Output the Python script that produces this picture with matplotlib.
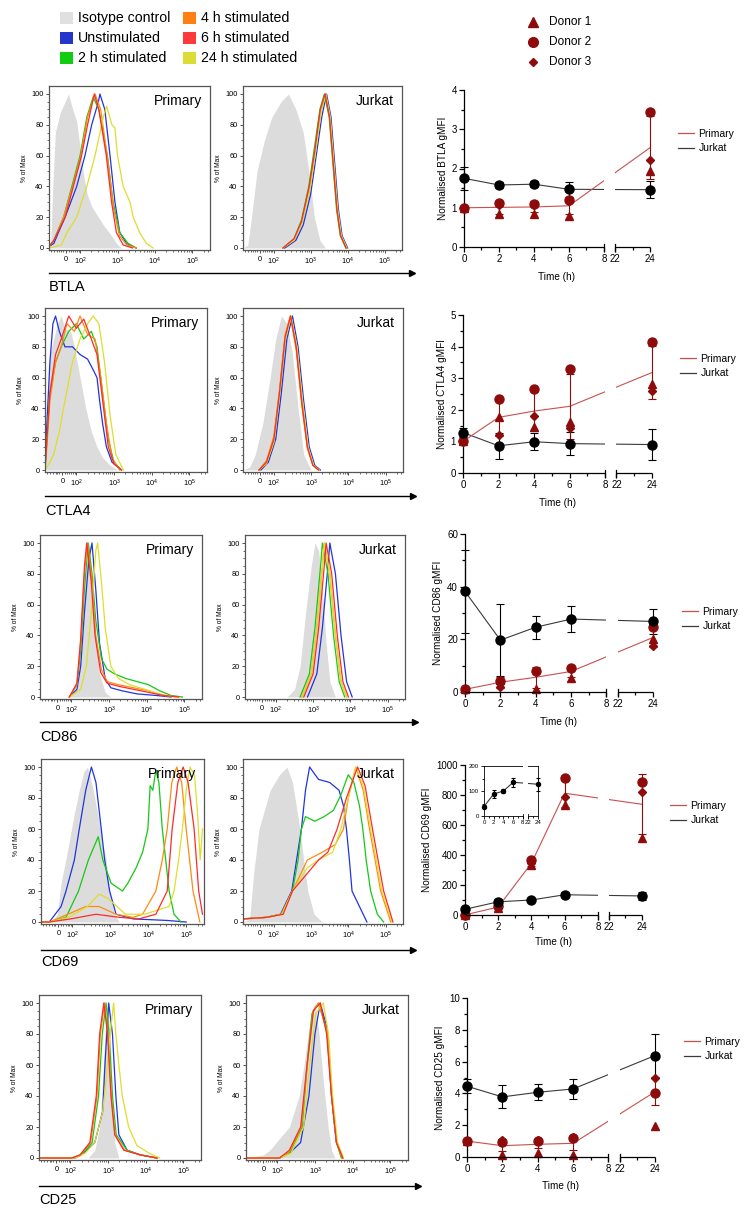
import numpy as np
import matplotlib
matplotlib.use('Agg')
import matplotlib.pyplot as plt
from matplotlib.lines import Line2D
from matplotlib.patches import Rectangle

plt.rcParams['font.family'] = ['Liberation Sans', 'DejaVu Sans']
plt.rcParams['mathtext.fontset'] = 'custom'
plt.rcParams['mathtext.rm'] = 'Liberation Sans'
plt.rcParams['mathtext.it'] = 'Liberation Sans:italic'
plt.rcParams['mathtext.bf'] = 'Liberation Sans:bold'

# ---------------- data ----------------
stim_keys = ['iso', 'unstim', '2h', '4h', '6h', '24h']
stim_labels = ['Isotype control', 'Unstimulated', '2 h stimulated',
               '4 h stimulated', '6 h stimulated', '24 h stimulated']
donor_labels = ['Donor 1', 'Donor 2', 'Donor 3']

# histogram curves: (display position on biexponential axis, % of Max)
# axis positions: "0" = 1.63, 10^2 = 2, 10^3 = 3, 10^4 = 4, 10^5 = 5
btla_primary = dict(
    iso=[(1.19, 0), (1.22, 5), (1.27, 40), (1.34, 75), (1.47, 88), (1.60, 95), (1.69, 100), (1.78, 92),
         (1.91, 82), (2.0, 65), (2.09, 48), (2.19, 35), (2.31, 27), (2.49, 20), (2.62, 15), (2.84, 8),
         (2.97, 3), (3.1, 0)],
    unstim=[(1.17, 1), (1.3, 3), (1.42, 10), (1.6, 20), (1.91, 40), (2.13, 60), (2.31, 80), (2.49, 95),
            (2.53, 100), (2.66, 90), (2.8, 60), (2.93, 30), (3.06, 10), (3.24, 3), (3.5, 0)],
    **{'2h': [(1.17, 1), (1.3, 5), (1.56, 20), (1.78, 40), (2.0, 60), (2.18, 85), (2.35, 98), (2.5, 90),
              (2.73, 60), (2.88, 30), (3.06, 10), (3.28, 3), (3.5, 0)],
       '4h': [(1.17, 1), (1.3, 5), (1.56, 20), (1.8, 40), (2.02, 60), (2.2, 85), (2.4, 100), (2.55, 90),
              (2.75, 55), (2.9, 25), (3.05, 8), (3.25, 2), (3.5, 0)],
       '6h': [(1.17, 1), (1.3, 5), (1.6, 20), (1.82, 40), (2.04, 60), (2.2, 80), (2.38, 100), (2.5, 90),
              (2.7, 60), (2.84, 30), (2.97, 10), (3.15, 2), (3.4, 0)],
       '24h': [(1.17, 0), (1.5, 2), (1.65, 10), (1.91, 20), (2.18, 40), (2.4, 60), (2.62, 85), (2.71, 92),
               (2.85, 80), (2.93, 78), (3.0, 60), (3.15, 40), (3.33, 30), (3.42, 20), (3.59, 10),
               (3.77, 3), (3.95, 0)]})
btla_jurkat = dict(
    iso=[(1.17, 0), (1.3, 2), (1.4, 20), (1.55, 50), (1.75, 70), (1.95, 85), (2.2, 95), (2.4, 100),
         (2.6, 90), (2.8, 75), (2.95, 50), (3.1, 20), (3.25, 5), (3.4, 0)],
    unstim=[(2.3, 0), (2.6, 5), (2.8, 15), (3.0, 35), (3.15, 60), (3.3, 85), (3.43, 100), (3.55, 85),
            (3.65, 55), (3.75, 25), (3.85, 8), (4.0, 0)],
    **{'2h': [(2.25, 0), (2.55, 6), (2.75, 18), (2.95, 40), (3.1, 65), (3.25, 90), (3.37, 100), (3.5, 85),
              (3.6, 55), (3.7, 25), (3.8, 8), (3.95, 0)],
       '4h': [(2.25, 0), (2.55, 5), (2.75, 16), (2.97, 38), (3.12, 62), (3.27, 88), (3.4, 100), (3.52, 85),
              (3.62, 55), (3.72, 25), (3.82, 8), (3.97, 0)],
       '6h': [(2.25, 0), (2.55, 6), (2.75, 17), (2.96, 40), (3.11, 63), (3.26, 90), (3.39, 100), (3.51, 85),
              (3.61, 55), (3.71, 25), (3.81, 8), (3.96, 0)],
       '24h': [(2.25, 0), (2.55, 5), (2.76, 16), (2.98, 38), (3.13, 62), (3.28, 88), (3.41, 100), (3.53, 85),
               (3.63, 55), (3.73, 25), (3.83, 8), (3.98, 0)]})
ctla4_primary = dict(
    iso=[(1.17, 0), (1.2, 10), (1.25, 50), (1.3, 75), (1.4, 85), (1.5, 95), (1.6, 100), (1.7, 92),
         (1.85, 90), (1.95, 80), (2.1, 60), (2.25, 40), (2.4, 25), (2.55, 15), (2.7, 8), (2.9, 3), (3.1, 0)],
    unstim=[(1.17, 0), (1.22, 30), (1.3, 70), (1.38, 95), (1.45, 100), (1.55, 90), (1.7, 80), (1.9, 80),
            (2.1, 75), (2.3, 72), (2.45, 65), (2.55, 60), (2.62, 45), (2.7, 30), (2.8, 15), (2.95, 5),
            (3.2, 0)],
    **{'2h': [(1.17, 0), (1.22, 20), (1.3, 50), (1.45, 70), (1.6, 80), (1.8, 90), (2.0, 95), (2.2, 85),
              (2.4, 90), (2.55, 80), (2.7, 50), (2.85, 20), (3.0, 5), (3.2, 0)],
       '4h': [(1.17, 0), (1.22, 15), (1.3, 45), (1.45, 70), (1.6, 80), (1.75, 95), (1.95, 90), (2.1, 100),
              (2.3, 88), (2.5, 85), (2.65, 60), (2.8, 30), (2.95, 8), (3.15, 0)],
       '6h': [(1.17, 0), (1.22, 20), (1.3, 50), (1.45, 75), (1.6, 85), (1.8, 100), (2.0, 92), (2.2, 98),
              (2.4, 85), (2.55, 75), (2.7, 45), (2.85, 15), (3.0, 4), (3.2, 0)],
       '24h': [(1.17, 0), (1.25, 3), (1.4, 10), (1.55, 25), (1.7, 45), (1.9, 70), (2.1, 85), (2.3, 95),
               (2.45, 100), (2.6, 95), (2.75, 70), (2.9, 35), (3.05, 10), (3.25, 0)]})
ctla4_jurkat = dict(
    iso=[(1.17, 0), (1.35, 2), (1.5, 10), (1.7, 30), (1.9, 60), (2.05, 85), (2.2, 100), (2.35, 95),
         (2.5, 75), (2.65, 40), (2.8, 10), (3.0, 0)],
    unstim=[(1.65, 0), (1.85, 5), (2.05, 20), (2.2, 50), (2.35, 85), (2.5, 100), (2.65, 80), (2.8, 45),
            (2.95, 15), (3.1, 3), (3.25, 0)],
    **{'2h': [(1.6, 0), (1.8, 5), (2.0, 20), (2.15, 50), (2.3, 85), (2.45, 100), (2.6, 80), (2.75, 45),
              (2.9, 15), (3.05, 3), (3.2, 0)],
       '4h': [(1.6, 0), (1.8, 6), (2.0, 22), (2.15, 52), (2.3, 88), (2.44, 100), (2.6, 78), (2.75, 42),
              (2.9, 14), (3.05, 3), (3.2, 0)],
       '6h': [(1.6, 0), (1.8, 5), (2.0, 20), (2.15, 50), (2.3, 86), (2.45, 100), (2.6, 80), (2.75, 44),
              (2.9, 15), (3.05, 3), (3.2, 0)],
       '24h': [(1.6, 0), (1.8, 4), (2.0, 18), (2.15, 48), (2.3, 84), (2.46, 100), (2.62, 80), (2.77, 45),
               (2.92, 15), (3.07, 3), (3.22, 0)]})
cd86_primary = dict(
    iso=[(1.95, 0), (2.15, 5), (2.25, 30), (2.35, 70), (2.43, 95), (2.47, 100), (2.55, 80), (2.65, 40),
         (2.75, 15), (2.9, 3), (3.05, 0)],
    unstim=[(1.95, 0), (2.15, 5), (2.25, 20), (2.35, 55), (2.47, 90), (2.55, 100), (2.65, 70), (2.75, 35),
            (2.9, 12), (3.05, 6), (3.35, 4), (3.75, 2), (4.25, 1), (4.65, 0)],
    **{'2h': [(1.95, 0), (2.15, 8), (2.25, 30), (2.35, 70), (2.45, 100), (2.55, 80), (2.65, 50), (2.8, 25),
              (2.95, 18), (3.15, 15), (3.45, 12), (3.75, 10), (4.05, 8), (4.35, 4), (4.65, 1), (4.95, 0)],
       '4h': [(1.95, 0), (2.15, 8), (2.25, 35), (2.35, 80), (2.43, 100), (2.55, 75), (2.65, 40), (2.8, 18),
              (2.95, 10), (3.25, 8), (3.65, 6), (4.05, 4), (4.45, 1), (4.85, 0)],
       '6h': [(1.95, 0), (2.15, 9), (2.25, 38), (2.35, 85), (2.41, 100), (2.53, 75), (2.63, 40), (2.78, 16),
              (2.95, 9), (3.25, 7), (3.65, 5), (4.05, 3), (4.45, 1), (4.85, 0)],
       '24h': [(1.95, 0), (2.25, 5), (2.4, 20), (2.55, 60), (2.65, 95), (2.7, 100), (2.8, 75), (2.9, 45),
               (3.05, 20), (3.25, 12), (3.55, 8), (3.95, 5), (4.35, 2), (4.75, 0)]})
cd86_jurkat = dict(
    iso=[(2.3, 0), (2.5, 5), (2.65, 20), (2.8, 55), (2.95, 85), (3.05, 100), (3.15, 95), (3.25, 70),
         (3.35, 35), (3.45, 10), (3.6, 0)],
    unstim=[(2.85, 0), (3.1, 15), (3.25, 45), (3.4, 85), (3.45, 100), (3.6, 80), (3.75, 40), (3.9, 10),
            (4.05, 0)],
    **{'2h': [(2.65, 0), (2.9, 15), (3.05, 45), (3.2, 85), (3.25, 100), (3.4, 80), (3.55, 40), (3.7, 10),
              (3.85, 0)],
       '4h': [(2.7, 0), (2.95, 15), (3.1, 45), (3.25, 85), (3.3, 100), (3.45, 80), (3.6, 40), (3.75, 10),
              (3.9, 0)],
       '6h': [(2.75, 0), (3.0, 15), (3.15, 45), (3.3, 85), (3.35, 100), (3.5, 80), (3.65, 40), (3.8, 10),
              (3.95, 0)],
       '24h': [(2.7, 0), (2.95, 15), (3.1, 45), (3.25, 85), (3.3, 100), (3.45, 80), (3.6, 40), (3.75, 10),
               (3.9, 0)]})
cd69_primary = dict(
    iso=[(1.45, 0), (1.6, 5), (1.7, 25), (1.9, 50), (2.05, 70), (2.18, 85), (2.3, 97), (2.4, 100),
         (2.55, 85), (2.7, 65), (2.8, 50), (2.89, 40), (2.98, 20), (3.1, 5), (3.24, 0)],
    unstim=[(1.17, 0), (1.39, 0), (1.7, 10), (1.83, 20), (2.05, 40), (2.18, 60), (2.35, 85), (2.5, 100),
            (2.62, 90), (2.76, 60), (2.85, 40), (2.98, 20), (3.15, 5), (3.6, 2), (4.5, 1), (5.0, 0)],
    **{'2h': [(1.17, 0), (1.39, 0), (1.83, 3), (2.16, 20), (2.42, 40), (2.68, 55), (2.8, 40), (3.02, 25),
              (3.32, 20), (3.46, 25), (3.68, 35), (3.85, 45), (3.99, 60), (4.05, 88), (4.12, 85),
              (4.2, 98), (4.28, 90), (4.37, 60), (4.46, 40), (4.55, 20), (4.68, 5), (4.86, 0)],
       '4h': [(1.17, 0), (1.39, 0), (1.88, 5), (2.35, 10), (2.7, 10), (3.15, 5), (3.6, 3), (3.85, 5),
              (4.2, 20), (4.37, 40), (4.5, 60), (4.62, 90), (4.75, 100), (4.88, 90), (5.0, 60),
              (5.18, 20), (5.36, 0)],
       '6h': [(1.17, 0), (1.39, 0), (1.95, 2), (2.62, 5), (3.24, 3), (3.75, 2), (4.2, 5), (4.5, 20),
              (4.63, 60), (4.78, 90), (4.92, 100), (5.05, 90), (5.21, 60), (5.33, 20), (5.43, 5)],
       '24h': [(1.17, 0), (1.39, 0), (1.9, 3), (2.4, 10), (2.7, 18), (2.95, 15), (3.4, 5), (3.9, 5),
               (4.55, 10), (4.68, 20), (4.8, 40), (4.9, 60), (5.0, 85), (5.1, 100), (5.22, 95),
               (5.3, 70), (5.37, 40), (5.43, 60)]})
cd69_jurkat = dict(
    iso=[(1.17, 0), (1.35, 2), (1.45, 30), (1.6, 60), (1.9, 85), (2.15, 95), (2.35, 100), (2.5, 90),
         (2.6, 75), (2.7, 60), (2.8, 40), (2.91, 20), (3.08, 5), (3.3, 0)],
    unstim=[(1.17, 2), (1.8, 3), (2.18, 5), (2.48, 20), (2.61, 40), (2.74, 60), (2.85, 85), (2.96, 100),
            (3.2, 92), (3.5, 90), (3.75, 85), (3.87, 75), (3.95, 60), (4.03, 40), (4.1, 20), (4.4, 5),
            (4.5, 0)],
    **{'2h': [(1.17, 2), (1.8, 3), (2.2, 5), (2.5, 20), (2.65, 40), (2.74, 60), (2.85, 68), (3.1, 65),
              (3.35, 68), (3.6, 72), (3.8, 82), (4.0, 95), (4.15, 90), (4.3, 75), (4.39, 60), (4.48, 40),
              (4.6, 20), (4.78, 5), (4.95, 0)],
       '4h': [(1.17, 2), (1.8, 3), (2.2, 5), (2.5, 20), (2.9, 40), (3.3, 45), (3.65, 50), (3.87, 60),
              (4.0, 80), (4.2, 100), (4.4, 85), (4.57, 60), (4.87, 20), (5.14, 0)],
       '6h': [(1.17, 2), (1.8, 3), (2.25, 5), (2.5, 20), (2.85, 30), (3.2, 40), (3.45, 45), (3.7, 60),
              (3.95, 80), (4.25, 100), (4.45, 88), (4.65, 60), (4.95, 20), (5.2, 0)],
       '24h': [(1.17, 2), (1.8, 3), (2.22, 5), (2.5, 20), (2.9, 35), (3.2, 40), (3.58, 45), (3.8, 60),
               (4.0, 80), (4.2, 100), (4.4, 88), (4.6, 60), (4.9, 20), (5.17, 0)]})
cd25_primary = dict(
    iso=[(1.17, 0), (2.47, 0), (2.65, 5), (2.78, 20), (2.86, 50), (2.92, 80), (2.99, 98), (3.06, 80),
         (3.12, 40), (3.18, 10), (3.29, 0)],
    unstim=[(1.17, 0), (2.13, 0), (2.3, 2), (2.65, 10), (2.86, 30), (2.92, 60), (3.02, 100), (3.12, 80),
            (3.21, 40), (3.29, 15), (3.51, 5), (3.86, 2), (4.3, 0)],
    **{'2h': [(1.17, 0), (2.05, 0), (2.3, 2), (2.58, 10), (2.75, 40), (2.85, 80), (2.95, 100), (3.03, 80),
              (3.12, 40), (3.22, 15), (3.51, 5), (3.86, 2), (4.3, 0)],
       '4h': [(1.17, 0), (2.05, 0), (2.26, 2), (2.54, 10), (2.71, 40), (2.8, 80), (2.91, 100), (3.0, 80),
              (3.09, 40), (3.19, 15), (3.45, 5), (3.86, 2), (4.3, 0)],
       '6h': [(1.17, 0), (2.04, 0), (2.26, 2), (2.52, 10), (2.69, 40), (2.78, 80), (2.89, 100), (2.99, 80),
              (3.08, 40), (3.18, 15), (3.42, 5), (3.86, 2), (4.3, 0)],
       '24h': [(1.17, 0), (2.13, 0), (2.39, 3), (2.65, 10), (2.86, 30), (2.95, 50), (3.05, 78), (3.15, 100),
               (3.21, 80), (3.29, 60), (3.38, 40), (3.55, 20), (3.77, 8), (4.1, 3), (4.37, 0)]})
cd25_jurkat = dict(
    iso=[(1.2, 0), (1.63, 2), (1.8, 5), (1.97, 10), (2.32, 20), (2.58, 40), (2.71, 60), (2.82, 80),
         (2.92, 95), (3.0, 100), (3.11, 80), (3.22, 50), (3.35, 20), (3.44, 5), (3.53, 0)],
    unstim=[(1.17, 0), (2.06, 0), (2.32, 3), (2.62, 10), (2.84, 40), (3.0, 80), (3.14, 100), (3.31, 85),
            (3.44, 40), (3.57, 10), (3.74, 0)],
    **{'2h': [(1.17, 0), (2.06, 0), (2.32, 3), (2.66, 20), (2.79, 60), (2.92, 93), (3.09, 100), (3.35, 80),
              (3.44, 40), (3.57, 10), (3.7, 0)],
       '4h': [(1.17, 0), (2.06, 0), (2.32, 4), (2.64, 20), (2.8, 60), (2.95, 95), (3.1, 100), (3.33, 80),
              (3.45, 40), (3.58, 10), (3.72, 0)],
       '6h': [(1.17, 0), (2.06, 0), (2.32, 5), (2.62, 20), (2.79, 60), (2.96, 95), (3.14, 100), (3.31, 80),
              (3.44, 40), (3.57, 10), (3.74, 0)],
       '24h': [(1.17, 0), (2.06, 0), (2.36, 3), (2.7, 20), (2.86, 60), (3.02, 93), (3.22, 100), (3.36, 80),
               (3.47, 40), (3.6, 10), (3.76, 0)]})

# time courses (h) : mean, SD, individual donors
time_h = [0, 2, 4, 6, 24]
btla_jurkat_mean = [1.75, 1.58, 1.60, 1.47, 1.46]
btla_jurkat_sd = [0.30, 0.08, 0.07, 0.19, 0.21]
btla_primary_mean = [1.0, 1.01, 1.02, 1.05, 2.53]
btla_primary_sd = [0.0, 0.16, 0.14, 0.22, 0.81]
btla_donor1 = [1.0, 0.83, 0.84, 0.80, 1.93]
btla_donor2 = [1.0, 1.12, 1.10, 1.20, 3.45]
btla_donor3 = [1.0, 1.08, 1.08, 1.17, 2.22]

ctla4_jurkat_mean = [1.28, 0.86, 0.99, 0.93, 0.90]
ctla4_jurkat_sd = [0.14, 0.42, 0.27, 0.36, 0.49]
ctla4_primary_mean = [1.0, 1.76, 1.96, 2.11, 3.18]
ctla4_primary_sd = [0.0, 0.58, 0.62, 1.03, 0.83]
ctla4_donor1 = [1.0, 1.76, 1.44, 1.62, 2.82]
ctla4_donor2 = [1.0, 2.34, 2.65, 3.30, 4.13]
ctla4_donor3 = [1.0, 1.19, 1.79, 1.42, 2.59]

cd86_jurkat_mean = [38.2, 19.7, 24.6, 27.7, 26.8]
cd86_jurkat_sd = [15.8, 13.6, 4.3, 5.0, 4.7]
cd86_primary_mean = [1.0, 3.7, 5.6, 7.8, 20.7]
cd86_primary_sd = [0.0, 2.0, 4.0, 2.2, 3.5]
cd86_donor1 = [1.0, 4.7, 1.0, 5.3, 20.0]
cd86_donor2 = [1.0, 4.2, 8.0, 9.3, 24.5]
cd86_donor3 = [1.0, 2.0, 7.6, 8.8, 17.5]

cd69_jurkat_mean = [38, 88, 100, 135, 127]
cd69_jurkat_sd = [5, 16, 8, 17, 27]
cd69_primary_mean = [1, 53, 345, 812, 738]
cd69_primary_sd = [0, 10, 16, 93, 200]
cd69_donor1 = [1, 45, 335, 733, 511]
cd69_donor2 = [1, 60, 367, 915, 885]
cd69_donor3 = [1, 52, 350, 789, 823]

cd25_jurkat_mean = [4.45, 3.78, 4.07, 4.28, 6.38]
cd25_jurkat_sd = [0.45, 0.72, 0.50, 0.62, 1.35]
cd25_primary_mean = [1.0, 0.71, 0.80, 0.86, 4.1]
cd25_primary_sd = [0.0, 0.35, 0.25, 0.45, 0.85]
cd25_donor1 = [1.0, 0.15, 0.27, 0.15, 1.97]
cd25_donor2 = [1.0, 0.92, 1.03, 1.18, 4.0]
cd25_donor3 = [1.0, 1.05, 1.10, 1.24, 5.0]

hist_xtick_pos = [1.63, 2, 3, 4, 5]
hist_xtick_lab = ['0', '$10^2$', '$10^3$', '$10^4$', '$10^5$']
time_ticks = [0, 2, 4, 6, 8, 22, 24]

# ---------------- styling ----------------
W, H = 752, 1216
fig = plt.figure(figsize=(W / 100, H / 100), dpi=100)

fill_iso = '#dcdcdc'
line_cols = {'unstim': '#1f35e0', '2h': '#16c816', '4h': '#ff8a14', '6h': '#ff2a2a', '24h': '#dede2c'}
legend_cols = ['#e0e0e0', '#2435cc', '#11cc11', '#ff7f10', '#ff3a3a', '#dcdc36']
prim_line = '#c8504f'
jur_line = '#3a3a3a'
dred = '#8e0b0b'


def px_axes(l, t, r, b):
    return fig.add_axes([l / W, 1 - b / H, (r - l) / W, (b - t) / H])


def hist_axes(l, r, y0, y100):
    k = (y0 - y100) / 100.0
    ax = px_axes(l, y0 - 105 * k, r, y0 + 1.5 * k)
    ax.set_ylim(-1.5, 105)
    return ax


minor_x = [1.22, 1.3, 1.38, 1.45, 1.5, 1.55, 1.7, 1.76, 1.82, 1.87, 1.92, 1.96]
for d in [2, 3, 4]:
    minor_x += [d + np.log10(m) for m in range(2, 10)]
minor_x += [5 + np.log10(2), 5 + np.log10(2.6)]


def draw_hist(ax, curves, title):
    ax.set_xlim(1.17, 5.47)
    p = np.array(curves['iso'], float)
    ax.fill_between(p[:, 0], p[:, 1], 0, color=fill_iso, lw=0, zorder=1)
    for key in ['unstim', '2h', '4h', '24h', '6h']:
        p = np.array(curves[key], float)
        ax.plot(p[:, 0], p[:, 1], color=line_cols[key], lw=0.9, zorder=2)
    for s in ax.spines.values():
        s.set_color('#555555')
        s.set_linewidth(0.9)
    ax.set_yticks(range(0, 101, 20))
    ax.set_yticks(range(0, 101, 5), minor=True)
    ax.set_xticks(hist_xtick_pos)
    ax.set_xticklabels(hist_xtick_lab)
    ax.set_xticks(minor_x, minor=True)
    ax.tick_params(which='major', direction='out', length=2.5, width=0.6, labelsize=5.3, pad=1.5,
                   color='#333333')
    ax.tick_params(which='minor', direction='out', length=1.3, width=0.5, color='#333333')
    ax.set_ylabel('% of Max', fontsize=4.8, labelpad=2)
    ax.text(0.95, 0.91, title, transform=ax.transAxes, ha='right', va='center', fontsize=10)


def make_scale(gap):
    def fwd(t):
        t = np.asarray(t, float)
        return np.where(t <= 8, t, np.where(t >= 22, t - 14 + gap, 8 + (t - 8) * gap / 14.0))

    def inv(x):
        x = np.asarray(x, float)
        return np.where(x <= 8, x, np.where(x >= 8 + gap, x + 14 - gap, 8 + (x - 8) * 14.0 / gap))
    return fwd, inv


def style_time_axis(ax, gap, ymax, major, minor, fs, tl, lw, brk_px, ax_h_px, box=False):
    fwd, inv = make_scale(gap)
    ax.set_xscale('function', functions=(fwd, inv))
    ax.set_xlim(0, 24)
    ax.set_ylim(0, ymax)
    ax.axvspan(8, 22, color='white', lw=0, zorder=2.6)
    for s in ['top', 'right']:
        ax.spines[s].set_visible(box)
        ax.spines[s].set_linewidth(lw)
    ax.spines['bottom'].set_visible(False)
    ax.spines['left'].set_linewidth(lw)
    tr = ax.get_xaxis_transform()
    for seg in ([0, 8], [22, 24]):
        ax.plot(seg, [0, 0], transform=tr, color='k', lw=lw, clip_on=False, zorder=6,
                solid_capstyle='butt')
    h = brk_px / ax_h_px
    for xb in (8, 22):
        ax.plot([xb, xb], [-h, h], transform=tr, color='k', lw=lw, clip_on=False, zorder=6)
    ax.set_xticks(time_ticks)
    ax.set_xticklabels([str(t) for t in time_ticks])
    ax.set_xticks([1, 3, 5, 7, 23], minor=True)
    ax.set_yticks(major)
    ax.set_yticks(minor, minor=True)
    ax.tick_params(which='major', direction='out', length=tl, width=lw, labelsize=fs, pad=1.5)
    ax.tick_params(which='minor', direction='out', length=tl * 0.6, width=lw)


def draw_time(ax, jm, jsd, pm, psd, d1, d2, d3, ms=1.0, donors=True):
    ax.plot(time_h, jm, color=jur_line, lw=0.8, zorder=2)
    ax.errorbar(time_h, jm, yerr=jsd, fmt='none', ecolor='k', elinewidth=0.8, capsize=2.6 * ms,
                capthick=0.8, zorder=3, clip_on=False)
    ax.plot(time_h, jm, 'o', color='k', ms=6.5 * ms, zorder=5, clip_on=False)
    if donors:
        ax.plot(time_h, pm, color=prim_line, lw=0.8, zorder=2)
        ax.errorbar(time_h, pm, yerr=psd, fmt='none', ecolor=dred, elinewidth=0.8, capsize=2.6,
                    capthick=0.8, zorder=3, clip_on=False)
        ax.plot(time_h, d2, 'o', color=dred, ms=6.5, zorder=4, clip_on=False)
        ax.plot(time_h, d1, '^', color=dred, ms=5.5, zorder=4, clip_on=False)
        ax.plot(time_h, d3, 'D', color=dred, ms=4.0, zorder=4, clip_on=False)


# ---------------- top legends ----------------
leg_pos = [(60, 18), (60, 38), (60, 58), (183, 18), (183, 38), (183, 58)]
for (x, y), lab, col in zip(leg_pos, stim_labels, legend_cols):
    fig.add_artist(Rectangle((x / W, 1 - (y + 6) / H), 13 / W, 12 / H, transform=fig.transFigure,
                             facecolor=col, edgecolor='none'))
    fig.text((x + 18) / W, 1 - y / H, lab, fontsize=10.2, va='center', ha='left')

donor_mk = [('^', 6.5), ('o', 7.0), ('D', 4.5)]
for i, (lab, (mk, s)) in enumerate(zip(donor_labels, donor_mk)):
    y = 22 + 20 * i
    fig.add_artist(Line2D([533 / W], [1 - y / H], marker=mk, ms=s, color=dred, ls='none',
                          transform=fig.transFigure))
    fig.text(549 / W, 1 - y / H, lab, fontsize=8.6, va='center', ha='left')

# ---------------- rows ----------------
rows = [
    dict(name='BTLA', prim=btla_primary, jur=btla_jurkat, y0=248, y100=94, pl=(49, 210), jl=(243, 402),
         arrow=273, lab=287),
    dict(name='CTLA4', prim=ctla4_primary, jur=ctla4_jurkat, y0=470, y100=316, pl=(45, 207), jl=(243, 403),
         arrow=496, lab=511),
    dict(name='CD86', prim=cd86_primary, jur=cd86_jurkat, y0=697, y100=543, pl=(40, 202), jl=(245, 405),
         arrow=722, lab=737),
    dict(name='CD69', prim=cd69_primary, jur=cd69_jurkat, y0=922, y100=767, pl=(41, 204), jl=(243, 403),
         arrow=950, lab=962),
    dict(name='CD25', prim=cd25_primary, jur=cd25_jurkat, y0=1158, y100=1003, pl=(39, 201), jl=(246, 408),
         arrow=1186, lab=1200),
]
for r in rows:
    a1 = hist_axes(r['pl'][0], r['pl'][1], r['y0'], r['y100'])
    draw_hist(a1, r['prim'], 'Primary')
    a2 = hist_axes(r['jl'][0], r['jl'][1], r['y0'], r['y100'])
    draw_hist(a2, r['jur'], 'Jurkat')
    fig.add_artist(Line2D([r['pl'][0] / W, (r['jl'][1] + 6) / W], [1 - r['arrow'] / H] * 2, color='k',
                          lw=1.0, transform=fig.transFigure))
    fig.add_artist(Line2D([(r['jl'][1] + 10) / W], [1 - r['arrow'] / H], marker='>', ms=4, color='k',
                          ls='none', transform=fig.transFigure))
    fig.text(r['pl'][0] / W, 1 - r['lab'] / H, r['name'], fontsize=10.5, va='center', ha='left')

# ---------------- time-course panels ----------------
panels = [
    dict(name='BTLA', box=(464, 90, 650, 247), ymax=4, major=[0, 1, 2, 3, 4], minor=np.arange(0, 4.01, 0.5),
         gap=0.63, d=(btla_jurkat_mean, btla_jurkat_sd, btla_primary_mean, btla_primary_sd,
                      btla_donor1, btla_donor2, btla_donor3), leg=(678, 141), xl=277),
    dict(name='CTLA4', box=(463, 315, 652, 473), ymax=5, major=[0, 1, 2, 3, 4, 5],
         minor=np.arange(0, 5.01, 0.5), gap=0.63,
         d=(ctla4_jurkat_mean, ctla4_jurkat_sd, ctla4_primary_mean, ctla4_primary_sd,
            ctla4_donor1, ctla4_donor2, ctla4_donor3), leg=(680, 366), xl=503),
    dict(name='CD86', box=(465, 534, 653, 692), ymax=60, major=[0, 20, 40, 60], minor=np.arange(0, 61, 10),
         gap=0.63, d=(cd86_jurkat_mean, cd86_jurkat_sd, cd86_primary_mean, cd86_primary_sd,
                      cd86_donor1, cd86_donor2, cd86_donor3), leg=(682, 619), xl=722),
    dict(name='CD69', box=(465, 765, 642, 915), ymax=1000, major=range(0, 1001, 200),
         minor=range(0, 1001, 100), gap=0.66,
         d=(cd69_jurkat_mean, cd69_jurkat_sd, cd69_primary_mean, cd69_primary_sd,
            cd69_donor1, cd69_donor2, cd69_donor3), leg=(670, 813), xl=942),
    dict(name='CD25', box=(467, 998, 655, 1157), ymax=10, major=range(0, 11, 2), minor=range(0, 11, 1),
         gap=0.63, d=(cd25_jurkat_mean, cd25_jurkat_sd, cd25_primary_mean, cd25_primary_sd,
                      cd25_donor1, cd25_donor2, cd25_donor3), leg=(684, 1049), xl=1186),
]
for p in panels:
    l, t, r_, b = p['box']
    ax = px_axes(l, t, r_, b)
    style_time_axis(ax, p['gap'], p['ymax'], p['major'], p['minor'], 7, 3.5, 0.9, 3.5, b - t)
    draw_time(ax, *p['d'])
    ax.set_ylabel('Normalised %s gMFI' % p['name'], fontsize=7.2, labelpad=3)
    fig.text((l + r_) / 2 / W, 1 - p['xl'] / H, 'Time (h)', fontsize=7.2, ha='center', va='center')
    handles = [Line2D([], [], color=prim_line, lw=0.9), Line2D([], [], color=jur_line, lw=0.9)]
    lx, ly = p['leg']
    ax.legend(handles, ['Primary', 'Jurkat'], loc='center left', bbox_to_anchor=(lx / W, 1 - ly / H),
              bbox_transform=fig.transFigure, frameon=False, fontsize=7.5, handlelength=1.5,
              handletextpad=0.45, labelspacing=0.45, borderpad=0, borderaxespad=0)

# CD69 inset (Jurkat only)
axi = px_axes(484, 766, 538, 816)
style_time_axis(axi, 1.1, 200, [0, 100, 200], range(0, 201, 50), 4.3, 2.0, 0.6, 2.0, 50, box=True)
draw_time(axi, cd69_jurkat_mean, cd69_jurkat_sd, None, None, None, None, None, ms=0.45, donors=False)
axi.tick_params(axis='x', pad=1)

fig.savefig('out.png', dpi=100)
